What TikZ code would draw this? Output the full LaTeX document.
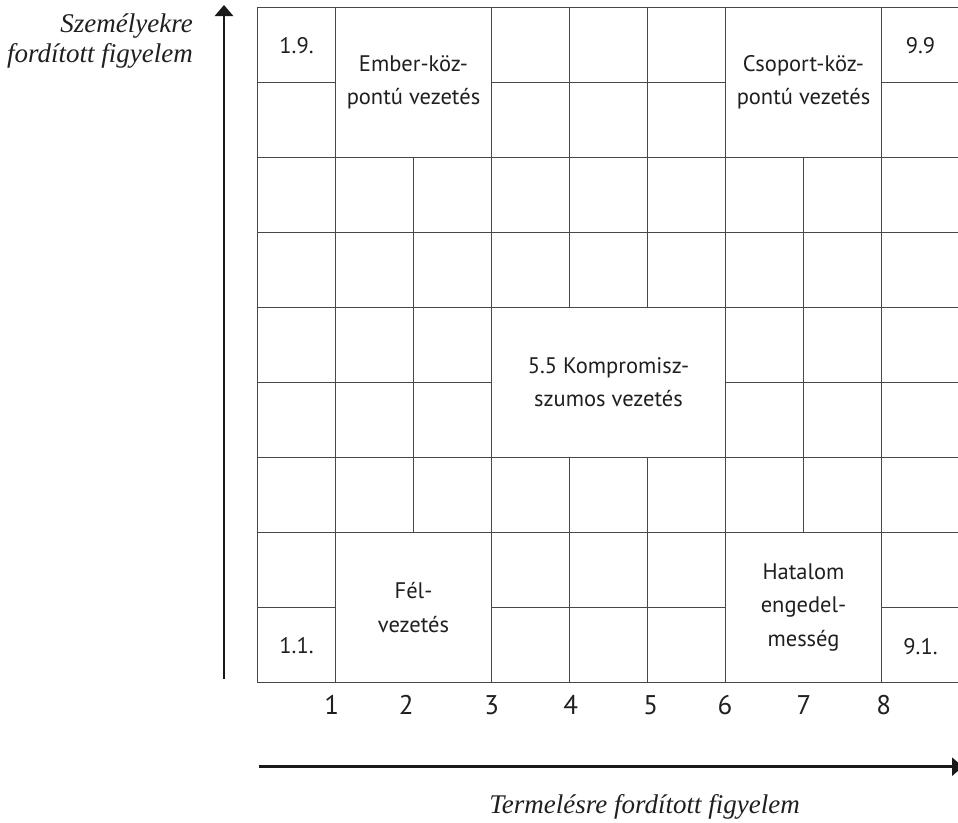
\documentclass[tikz,border=0pt]{standalone}
\usepackage{fontspec}
\setmainfont{PT Sans}
\newfontfamily\itfont{Liberation Serif}
\usetikzlibrary{arrows.meta}

\tikzset{
  cell/.style={draw=black!72, line width=1.3pt, minimum width=78pt, minimum height=75pt, inner sep=0pt, outer sep=0pt},
  bigcell/.style={cell, font=\fontsize{22.5}{33.5}\selectfont, text=black!88, align=center},
  celltext/.style={font=\fontsize{22.5}{33}\selectfont, text=black!88, inner sep=0pt, anchor=base},
  numtext/.style={font=\fontsize{27}{30}\selectfont, text=black!88, inner sep=0pt, anchor=base},
  axislabel/.style={font=\itfont\itshape\fontsize{27}{30}\selectfont, text=black!88, inner sep=0pt},
  axisarrow/.style={line width=2.7pt, black!90, -{Triangle[width=18pt,length=11pt]}},
}

\begin{document}
\begin{tikzpicture}[x=1pt,y=-1pt]
\useasboundingbox (0,0) rectangle (958,822);

% single cells
\foreach \r in {1,...,9} {
  \foreach \c in {1,...,9} {
    \pgfmathtruncatemacro{\skipcell}{((\r<=2) && (\c==2 || \c==3 || \c==7 || \c==8)) || ((\r==5 || \r==6) && (\c>=4 && \c<=6)) || ((\r>=8) && (\c==2 || \c==3 || \c==7 || \c==8)) ? 1 : 0}
    \ifnum\skipcell=0
      \node[cell] (c\r-\c) at ({257.5+78*(\c-0.5)},{7.3+75*(\r-0.5)}) {};
    \fi
  }
}

% merged cells
\node[bigcell, minimum width=156pt, minimum height=150pt] (ember) at (413.5,82.3) {Ember-köz-\\pontú vezetés};
\node[bigcell, minimum width=156pt, minimum height=150pt] (csoport) at (803.5,82.3) {Csoport-köz-\\pontú vezetés};
\node[bigcell, minimum width=234pt, minimum height=150pt] (kompr) at (608.5,382.3) {5.5 Kompromisz-\\szumos vezetés};
\node[bigcell, minimum width=156pt, minimum height=150pt] (fel) at (413.5,607.3) {Fél-\\vezetés};
\node[bigcell, minimum width=156pt, minimum height=150pt] (hatalom) at (803.5,607.3) {Hatalom\\engedel-\\messég};

% corner labels
\node[celltext] (t19) at (296.5,53) {1.9.};
\node[celltext] (t99) at (920.5,53) {9.9};
\node[celltext] (t11) at (296.5,653) {1.1.};
\node[celltext] (t91) at (920.5,654) {9.1.};

% axis numbers
\node[numtext] (n1) at (331.7,714) {1};
\node[numtext] (n2) at (406.3,714) {2};
\node[numtext] (n3) at (491.7,714) {3};
\node[numtext] (n4) at (570.7,714) {4};
\node[numtext] (n5) at (650.7,714) {5};
\node[numtext] (n6) at (725,714) {6};
\node[numtext] (n7) at (804,714) {7};
\node[numtext] (n8) at (883.7,714) {8};

% axes
\coordinate (ybot) at (224,679);
\coordinate (ytop) at (224,5);
\draw[axisarrow] (ybot) -- (ytop);
\coordinate (xleft) at (259,766.7);
\coordinate (xright) at (963,766.7);
\draw[axisarrow] (xleft) -- (xright);

% axis labels
\node[axislabel, anchor=base east, align=right] (ylab) at (193,62) {Személyekre\\fordított figyelem};
\node[axislabel, anchor=base] (xlab) at (644.5,813) {Termelésre fordított figyelem};
\end{tikzpicture}
\end{document}
